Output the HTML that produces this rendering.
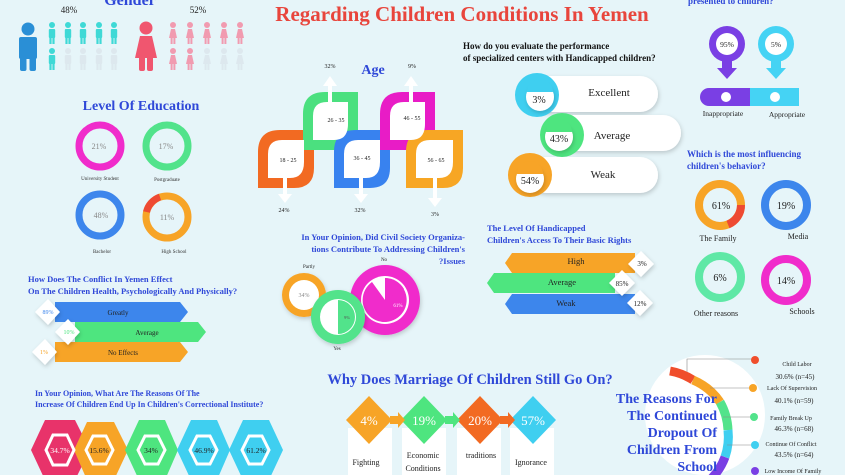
<!DOCTYPE html>
<html><head><meta charset="utf-8"><style>
html,body{margin:0;padding:0;background:#e6f5f9;}
svg{display:block}
text{font-family:"Liberation Serif",serif;}
.t{fill:#2f48d8;font-weight:bold;}
.k{fill:#111;}
</style></head><body>
<svg width="845" height="475" viewBox="0 0 845 475" xmlns="http://www.w3.org/2000/svg">
<defs>
<filter id="sh" x="-30%" y="-30%" width="160%" height="160%"><feDropShadow dx="1" dy="2" stdDeviation="2" flood-color="#000" flood-opacity="0.18"/></filter>
<g id="man"><circle cx="0" cy="3" r="3"/><rect x="-3.2" y="7" width="6.4" height="9" rx="1"/><rect x="-2.6" y="15" width="2.2" height="7"/><rect x="0.4" y="15" width="2.2" height="7"/></g>
<g id="wom"><circle cx="0" cy="3" r="3"/><path d="M-2,7 H2 L4,16 H-4 Z"/><rect x="-2.4" y="15" width="2" height="7"/><rect x="0.4" y="15" width="2" height="7"/></g>
</defs>
<rect width="845" height="475" fill="#e6f5f9"/>

<!-- Title -->
<text x="462" y="21" text-anchor="middle" font-size="21" font-weight="bold" fill="#e8453c">Regarding Children Conditions In Yemen</text>

<!-- Gender -->
<text x="130" y="5" text-anchor="middle" class="t" font-size="16">Gender</text>
<text x="69" y="13" text-anchor="middle" font-size="9" fill="#222" font-family="Liberation Sans">48%</text>
<text x="198" y="13" text-anchor="middle" font-size="9" fill="#222" font-family="Liberation Sans">52%</text>
<g fill="#2a8fd6"><circle cx="28" cy="29" r="6.5"/><rect x="19" y="37" width="18" height="22" rx="2"/><rect x="20" y="56" width="6.5" height="15" rx="2"/><rect x="29.5" y="56" width="6.5" height="15" rx="2"/></g>
<g fill="#3fd9d6">
<use href="#man" x="52" y="22"/><use href="#man" x="68" y="22"/><use href="#man" x="83" y="22"/><use href="#man" x="99" y="22"/><use href="#man" x="114" y="22"/>
<use href="#man" x="52" y="48"/></g>
<g fill="#dde8ee"><use href="#man" x="68" y="48"/><use href="#man" x="83" y="48"/><use href="#man" x="99" y="48"/><use href="#man" x="114" y="48"/></g>
<g fill="#f0566f"><circle cx="146" cy="28" r="6.5"/><path d="M140,36 H152 L157,58 H135 Z"/><rect x="139" y="56" width="6" height="15" rx="2"/><rect x="147" y="56" width="6" height="15" rx="2"/></g>
<g fill="#f19bb0">
<use href="#wom" x="173" y="22"/><use href="#wom" x="190" y="22"/><use href="#wom" x="207" y="22"/><use href="#wom" x="224" y="22"/><use href="#wom" x="240" y="22"/>
<use href="#wom" x="173" y="48"/><use href="#wom" x="190" y="48"/></g>
<g fill="#dde8ee"><use href="#wom" x="207" y="48"/><use href="#wom" x="224" y="48"/><use href="#wom" x="240" y="48"/></g>

<!-- Education -->
<text x="141" y="110" text-anchor="middle" class="t" font-size="14">Level Of Education</text>
<g fill="none" stroke-width="7">
<circle cx="100" cy="146" r="21" stroke="#f02ccb"/>
<circle cx="167" cy="146" r="21" stroke="#52e38b"/>
<circle cx="100" cy="215" r="21" stroke="#3d86ec"/>
<circle cx="167" cy="217" r="21" stroke="#f7a427"/>
<path d="M146.5,212 A21,21 0 0 1 160,197" stroke="#ee4a33"/>
</g>
<g font-family="Liberation Sans" font-size="8" fill="#888" text-anchor="middle">
<text x="99" y="149">21%</text><text x="166" y="149">17%</text><text x="101" y="218">48%</text><text x="167" y="220">11%</text></g>
<g font-size="5" fill="#333" text-anchor="middle">
<text x="100" y="180">University Student</text><text x="167" y="181">Postgraduate</text>
<text x="102" y="253">Bachelor</text><text x="174" y="253">High School</text></g>

<!-- Age -->
<text x="373" y="74" text-anchor="middle" class="t" font-size="14">Age</text>
<g>
<path d="M280,130 H314 V168 Q314,188 294,188 H258 V152 Q258,130 280,130Z" fill="#f26a22"/>
<path d="M325,92 H358 V130 Q358,150 338,150 H303 V114 Q303,92 325,92Z" fill="#4be07f"/>
<path d="M356,130 H390 V168 Q390,188 370,188 H334 V152 Q334,130 356,130Z" fill="#3882ef"/>
<path d="M402,92 H435 V130 Q435,150 415,150 H380 V114 Q380,92 402,92Z" fill="#e81cc6"/>
<path d="M428,130 H463 V168 Q463,188 443,188 H406 V152 Q406,130 428,130Z" fill="#f7a624"/>
<g fill="#fff">
<path d="M282,140 H304 V162 Q304,178 290,178 H268 V154 Q268,140 282,140Z"/>
<path d="M327,102 H348 V124 Q348,140 334,140 H313 V116 Q313,102 327,102Z"/>
<path d="M358,140 H380 V162 Q380,178 366,178 H344 V154 Q344,140 358,140Z"/>
<path d="M404,102 H425 V124 Q425,140 411,140 H390 V116 Q390,102 404,102Z"/>
<path d="M430,140 H453 V162 Q453,178 439,178 H416 V154 Q416,140 430,140Z"/>
<rect x="283" y="176" width="4" height="20"/><path d="M278,194 H292 L285,203Z"/>
<rect x="328" y="82" width="4" height="22"/><path d="M323,86 H337 L330,76Z"/>
<rect x="359" y="176" width="4" height="20"/><path d="M354,194 H368 L361,203Z"/>
<rect x="409" y="82" width="4" height="22"/><path d="M404,86 H418 L411,76Z"/>
<rect x="433" y="176" width="4" height="24"/><path d="M428,198 H442 L435,207Z"/>
</g>
<g font-size="6" fill="#222" text-anchor="middle">
<text x="288" y="162">18 - 25</text><text x="336" y="122">26 - 35</text><text x="362" y="160">36 - 45</text><text x="412" y="120">46 - 55</text><text x="436" y="162">56 - 65</text></g>
<g font-size="6" fill="#222" text-anchor="middle">
<text x="330" y="68">32%</text><text x="412" y="68">9%</text><text x="284" y="212">24%</text><text x="360" y="212">32%</text><text x="435" y="216">3%</text></g>
</g>

<!-- Handicapped centers -->
<text x="463" y="49" font-size="9" font-weight="bold" fill="#111">How do you evaluate the performance</text>
<text x="463" y="61" font-size="9" font-weight="bold" fill="#111">of specialized centers with Handicapped children?</text>
<g>
<rect x="530" y="76" width="128" height="36" rx="18" fill="#fff" filter="url(#sh)"/>
<circle cx="537" cy="95" r="22" fill="#3fcff0"/><circle cx="540" cy="97" r="14" fill="#fff" filter="url(#sh)"/>
<path d="M527,92 A13,13 0 0 1 553,92 Z" fill="#3fcff0"/>
<rect x="555" y="115" width="126" height="36" rx="18" fill="#fff" filter="url(#sh)"/>
<circle cx="562" cy="135" r="22" fill="#4ee57f"/><circle cx="559" cy="137" r="14" fill="#fff" filter="url(#sh)"/>
<path d="M546,132 A13,13 0 0 1 572,132 Z" fill="#4ee57f"/>
<rect x="528" y="157" width="130" height="36" rx="18" fill="#fff" filter="url(#sh)"/>
<circle cx="530" cy="175" r="22" fill="#f7a427"/><circle cx="530" cy="179" r="14" fill="#fff" filter="url(#sh)"/>
<path d="M517,174 A13,13 0 0 1 543,174 Z" fill="#f7a427"/>
<g font-size="10" fill="#222" text-anchor="middle">
<text x="539" y="103">3%</text><text x="559" y="142">43%</text><text x="530" y="184">54%</text></g>
<g font-size="11" fill="#222" text-anchor="middle">
<text x="609" y="96">Excellent</text><text x="612" y="139">Average</text><text x="603" y="178">Weak</text></g>
</g>

<!-- Top right -->
<text x="688" y="4" class="t" font-size="9">presented to children?</text>
<circle cx="727" cy="44" r="18" fill="#7a3fe4"/><circle cx="727" cy="44" r="11" fill="#fff"/>
<path d="M722,58 H732 V68 H737 L727,79 L717,68 H722Z" fill="#7a3fe4"/>
<circle cx="776" cy="44" r="18" fill="#45d3f4"/><circle cx="776" cy="44" r="11" fill="#fff"/>
<path d="M771,58 H781 V68 H786 L776,79 L766,68 H771Z" fill="#45d3f4"/>
<text x="727" y="47" text-anchor="middle" font-size="7.5" fill="#222">95%</text>
<text x="776" y="47" text-anchor="middle" font-size="7.5" fill="#222">5%</text>
<path d="M709,88 H750 V106 H709 A9,9 0 0 1 709,88Z" fill="#7a3fe4"/>
<rect x="750" y="88" width="49" height="18" fill="#45d3f4"/>
<circle cx="726" cy="97" r="5" fill="#fff"/><circle cx="775" cy="97" r="5" fill="#fff"/>
<text x="723" y="116" text-anchor="middle" font-size="7.5" fill="#222">Inappropriate</text>
<text x="787" y="117" text-anchor="middle" font-size="7.5" fill="#222">Appropriate</text>

<!-- Influencing -->
<text x="687" y="157" class="t" font-size="9">Which is the most influencing</text>
<text x="687" y="169" class="t" font-size="9">children's behavior?</text>
<g fill="none" stroke-width="8">
<circle cx="720" cy="205" r="21" stroke="#f7a427"/>
<path d="M741,205 A21,21 0 0 1 728,224.5" stroke="#ee4a33"/>
<circle cx="786" cy="205" r="21" stroke="#3d86ec"/>
<circle cx="720" cy="277" r="21" stroke="#5fe8a6"/>
<circle cx="786" cy="280" r="21" stroke="#f02ccb"/>
</g>
<g font-family="Liberation Sans" font-size="10" fill="#222" text-anchor="middle">
<text x="721" y="209">61%</text><text x="786" y="209">19%</text><text x="720" y="281">6%</text><text x="786" y="284">14%</text></g>
<g font-size="8" fill="#222" text-anchor="middle">
<text x="718" y="241">The Family</text><text x="798" y="239">Media</text><text x="716" y="316">Other reasons</text><text x="802" y="314">Schools</text></g>

<!-- Civil society -->
<g class="t" font-size="8.5" text-anchor="end">
<text x="465" y="240">In Your Opinion, Did Civil Society Organiza-</text>
<text x="465" y="252">tions Contribute To Addressing Children's</text>
<text x="465" y="264">?Issues</text></g>
<text x="309" y="268" text-anchor="middle" font-size="5" fill="#222">Partly</text>
<text x="384" y="261" text-anchor="middle" font-size="5" fill="#222">No</text>
<text x="337" y="350" text-anchor="middle" font-size="5" fill="#222">Yes</text>
<circle cx="304" cy="295" r="22" fill="#f7a427" filter="url(#sh)"/><circle cx="304" cy="295" r="15" fill="#fff"/>
<text x="304" y="297" text-anchor="middle" font-size="6" fill="#888">34%</text>
<circle cx="385" cy="300" r="35" fill="#f02ccb" filter="url(#sh)"/><circle cx="385" cy="300" r="24" fill="#fff"/>
<path d="M385,300 L385,278 A22,22 0 1 1 372,282Z" fill="#f02ccb"/>
<path d="M385,300 V278 A22,22 0 0 1 404,289Z" fill="#f02ccb"/>
<text x="398" y="307" text-anchor="middle" font-size="5" fill="#fff">61%</text>
<circle cx="338" cy="317" r="27" fill="#52e38b" filter="url(#sh)"/><circle cx="338" cy="317" r="18" fill="#fff"/>
<path d="M338,317 V300 A17,17 0 0 1 338,334Z" fill="#52e38b"/>
<text x="344" y="319" font-size="4.5" fill="#555">9%</text>

<!-- Conflict -->
<text x="28" y="282" class="t" font-size="8.5">How Does The Conflict In Yemen Effect</text>
<text x="28" y="294" class="t" font-size="8.5">On The Children Health, Psychologically And Physically?</text>
<path d="M55,302 H180 L188,312 L180,322 H55 Z" fill="#3d86ec"/>
<path d="M75,322 H198 L206,332 L198,342 H75 Z" fill="#4ee57f"/>
<path d="M55,342 H180 L188,352 L180,362 H55 Z" fill="#f7a427"/>
<g fill="#fff" filter="url(#sh)">
<path d="M48,299 L60,312 L48,325 L35,312Z"/>
<path d="M68,319 L80,332 L68,345 L55,332Z"/>
<path d="M45,339 L57,352 L45,365 L32,352Z"/></g>
<g font-size="6" text-anchor="middle"><text x="48" y="314" fill="#3d86ec">89%</text><text x="69" y="334" fill="#4ee57f">10%</text><text x="44" y="354" fill="#f7a427">1%</text></g>
<g font-size="7" fill="#222" text-anchor="middle"><text x="118" y="315">Greatly</text><text x="147" y="335">Average</text><text x="123" y="355">No Effects</text></g>

<!-- Correctional -->
<text x="35" y="396" class="t" font-size="8">In Your Opinion, What Are The Reasons Of The</text>
<text x="35" y="407" class="t" font-size="8">Increase Of Children End Up In Children's Correctional Institute?</text>
<g>
<path d="M31,450 L45,420 H75 L90,450 L75,480 H45Z" fill="#e8336a"/>
<path d="M74,450 L87,422 H114 L128,450 L114,480 H87Z" fill="#f7a427"/>
<path d="M125,450 L139,420 H165 L178,450 L165,480 H139Z" fill="#4ee57f"/>
<path d="M177,450 L191,420 H217 L230,450 L217,480 H191Z" fill="#3fcff0"/>
<path d="M229,450 L243,420 H269 L283,450 L269,480 H243Z" fill="#3fcff0"/>
<g fill="none" stroke="#fff" stroke-width="3">
<path d="M46,450 L53,435 H67 L74,450 L67,465 H53Z"/>
<path d="M86,450 L93,436 H106 L113,450 L106,464 H93Z"/>
<path d="M138,450 L145,436 H158 L165,450 L158,464 H145Z"/>
<path d="M190,450 L197,436 H210 L217,450 L210,464 H197Z"/>
<path d="M242,450 L249,436 H262 L269,450 L262,464 H249Z"/></g>
<g font-family="Liberation Sans" font-size="7.5" text-anchor="middle" fill="#222">
<text x="60" y="453" fill="#fff">34.7%</text><text x="99" y="453">15.6%</text><text x="151" y="453">34%</text><text x="204" y="453">46.9%</text><text x="256" y="453">61.2%</text></g>
</g>

<!-- Marriage -->
<text x="470" y="384" text-anchor="middle" class="t" font-size="14.5">Why Does Marriage Of Children Still Go On?</text>
<g>
<rect x="348" y="428" width="44" height="47" fill="#fff"/>
<rect x="402" y="428" width="44" height="47" fill="#fff"/>
<rect x="457" y="428" width="44" height="47" fill="#fff"/>
<rect x="510" y="428" width="44" height="47" fill="#fff"/>
<path d="M369,396 L392,420 L369,444 L346,420Z" fill="#f7a427"/>
<path d="M424,396 L447,420 L424,444 L401,420Z" fill="#4ee57f"/>
<path d="M480,396 L503,420 L480,444 L457,420Z" fill="#f26a22"/>
<path d="M533,396 L556,420 L533,444 L510,420Z" fill="#3fcff0"/>
<path d="M390,416 H398 V412 L405,420 L398,428 V424 H390Z" fill="#f7a427"/>
<path d="M445,416 H453 V412 L460,420 L453,428 V424 H445Z" fill="#4ee57f"/>
<path d="M500,416 H508 V412 L515,420 L508,428 V424 H500Z" fill="#f26a22"/>
<g font-family="Liberation Sans" font-size="13" fill="#fff" text-anchor="middle">
<text x="369" y="425">4%</text><text x="424" y="425">19%</text><text x="480" y="425">20%</text><text x="533" y="425">57%</text></g>
<g font-size="8" fill="#222" text-anchor="middle">
<text x="366" y="465">Fighting</text><text x="423" y="458">Economic</text><text x="423" y="471">Conditions</text><text x="481" y="458">traditions</text><text x="531" y="465">Ignorance</text></g>
</g>

<!-- Basic rights -->
<text x="487" y="231" class="t" font-size="8.5">The Level Of Handicapped</text>
<text x="487" y="243" class="t" font-size="8.5">Children's Access To Their Basic Rights</text>
<path d="M512,253 H635 V273 H512 L505,263Z" fill="#f7a427"/>
<path d="M494,273 H615 V293 H494 L487,283Z" fill="#4ee57f"/>
<path d="M512,294 H635 V314 H512 L505,304Z" fill="#3d86ec"/>
<g fill="#fff" filter="url(#sh)">
<path d="M641,251 L654,264 L641,277 L628,264Z"/>
<path d="M622,270 L635,283 L622,296 L609,283Z"/>
<path d="M640,290 L653,303 L640,316 L627,303Z"/></g>
<g font-size="7" fill="#222" text-anchor="middle"><text x="642" y="266">3%</text><text x="622" y="286">85%</text><text x="640" y="306">12%</text>
<text x="576" y="264" font-size="8.5">High</text><text x="562" y="285" font-size="8.5">Average</text><text x="566" y="306" font-size="8.5">Weak</text></g>

<!-- Dropout -->
<circle cx="705" cy="415" r="60" fill="#fff"/>
<g fill="none" stroke-width="9">
<path d="M670,371 A62,62 0 0 1 693,380" stroke="#f04e2c"/>
<path d="M693,380 A62,62 0 0 1 720,402" stroke="#f7a427"/>
<path d="M720,402 A62,62 0 0 1 728,430" stroke="#52e38b"/>
<path d="M728,430 A62,62 0 0 1 725,457" stroke="#3fcff0"/>
<path d="M725,457 A62,62 0 0 1 710,480" stroke="#7a3fe4"/>
</g>
<g class="t" font-size="14" text-anchor="end">
<text x="717" y="403">The Reasons For</text><text x="717" y="420">The Continued</text><text x="717" y="437">Dropout Of</text><text x="717" y="454">Children From</text><text x="717" y="471">School</text></g>
<g stroke="#888" stroke-width="0.6" fill="none">
<path d="M687,372 V359 H751"/><path d="M710,388 H750"/><path d="M723,417 H751"/><path d="M727,445 H752"/></g>
<circle cx="755" cy="360" r="4" fill="#f04e2c"/><circle cx="753" cy="388" r="4" fill="#f7a427"/><circle cx="754" cy="417" r="4" fill="#52e38b"/><circle cx="755" cy="445" r="4" fill="#3fcff0"/><circle cx="755" cy="471" r="4" fill="#7a3fe4"/>
<g font-size="6" fill="#222" text-anchor="middle">
<text x="797" y="366">Child Labor</text><text x="792" y="390">Lack Of Supervision</text><text x="791" y="420">Family Break Up</text><text x="791" y="446">Continue Of Conflict</text><text x="793" y="473">Low Income Of Family</text></g>
<g font-family="Liberation Sans" font-size="7" fill="#222" text-anchor="middle">
<text x="795" y="379">30.6% (n=45)</text><text x="794" y="403">40.1% (n=59)</text><text x="794" y="431">46.3% (n=68)</text><text x="794" y="457">43.5% (n=64)</text></g>
</svg>
</body></html>
